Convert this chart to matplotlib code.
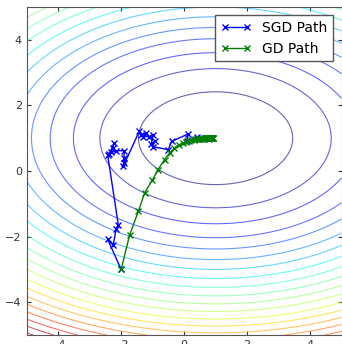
import numpy as np
import matplotlib
matplotlib.use("Agg")
import matplotlib.pyplot as plt

# minimum of the loss surface and its axis weights
center = (1.0, 1.0)
wx, wy = 1.0 / 3.0, 1.0
levels = [2.0, 4.5, 6.8, 9.2, 11.4, 13.7, 16.0, 18.3, 20.7, 23.1, 25.5,
          27.9, 30.4, 32.8, 35.2, 37.6, 40.0, 42.4, 44.8, 47.2]

# SGD path
sgd_x = [-2.0, -2.43, -2.25, -2.16, -2.09, -2.43, -2.32, -2.27, -2.22, -2.37,
         -2.16, -1.9, -1.92, -1.9, -1.93, -1.42, -1.36, -1.2, -1.3, -1.1,
         -0.99, -1.04, -0.94, -0.99, -0.5, -0.4, 0.13, 0.08, 0.4, 0.55,
         0.7, 0.8, 0.88]
sgd_y = [-3.0, -2.08, -2.25, -1.77, -1.64, 0.5, 0.57, 0.7, 0.85, 0.53,
         0.62, 0.62, 0.25, 0.4, 0.15, 1.22, 1.1, 1.16, 1.05, 1.05,
         1.1, 0.82, 0.9, 0.74, 0.65, 0.9, 1.13, 0.9, 1.05, 1.0,
         1.02, 0.98, 1.0]

# GD path
gd_x = [-2.0, -1.73, -1.45, -1.25, -1.01, -0.83, -0.62, -0.46, -0.31, -0.17,
        -0.04, 0.06, 0.15, 0.23, 0.3, 0.36, 0.42, 0.47, 0.52, 0.56,
        0.6, 0.63, 0.66, 0.69, 0.72, 0.74, 0.76, 0.78, 0.8, 0.82,
        0.83, 0.85, 0.86, 0.87, 0.88, 0.89, 0.9, 0.91, 0.92, 0.93]
gd_y = [-3.0, -1.95, -1.22, -0.66, -0.28, 0.04, 0.35, 0.55, 0.69, 0.79,
        0.85, 0.89, 0.92, 0.94, 0.955, 0.965, 0.973, 0.98, 0.985, 0.988,
        0.99, 0.992, 0.994, 0.995, 0.996, 0.997, 0.998, 0.998, 0.999, 0.999,
        1.0, 1.0, 1.0, 1.0, 1.0, 1.0, 1.0, 1.0, 1.0, 1.0]

gx = np.linspace(-5, 5, 400)
X, Y = np.meshgrid(gx, gx)
Z = wx * (X - center[0]) ** 2 + wy * (Y - center[1]) ** 2

fig = plt.figure(figsize=(3.42, 3.44), dpi=100)
ax = fig.add_axes([26.7 / 342, 9 / 344, 314.8 / 342, 328 / 344])

ax.contour(X, Y, Z, levels=levels, cmap='jet', alpha=0.6, linewidths=0.8,
           vmin=levels[0], vmax=levels[-1])

ax.plot(sgd_x, sgd_y, 'x-', color='b', lw=1, ms=5, mew=1, label='SGD Path')
ax.plot(gd_x, gd_y, 'x-', color=(0, 0.5, 0), lw=1, ms=5, mew=1, label='GD Path')

ax.set_xlim(-5, 5)
ax.set_ylim(-5, 5)
ax.set_xticks([-4, -2, 0, 2, 4])
ax.set_yticks([-4, -2, 0, 2, 4])
ax.tick_params(direction='in', top=True, right=True, labelsize=8,
               colors='#333333', length=3)
for s in ax.spines.values():
    s.set_color('#555555')

leg = ax.legend(loc='upper right', fontsize=10, numpoints=2, fancybox=False,
                handlelength=2.2, borderaxespad=0.6, framealpha=1)
leg.get_frame().set_edgecolor('#555555')

fig.savefig('out.png', dpi=100)
